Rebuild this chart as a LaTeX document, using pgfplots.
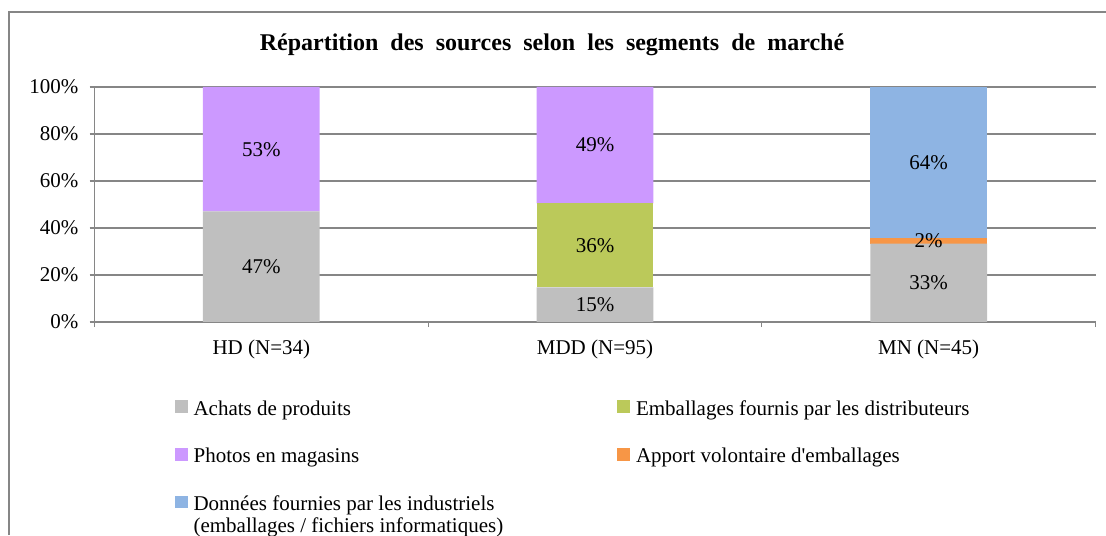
\documentclass[border=0pt]{standalone}
\usepackage{fontspec}
\setmainfont{Liberation Serif}
\newfontfamily\nomap{Liberation Serif}
\usepackage{pgfplots}
\usepackage{pgfplotstable}
\pgfplotsset{compat=1.18}
\definecolor{cach}{RGB}{191,191,191}
\definecolor{cemb}{RGB}{187,201,90}
\definecolor{cpho}{RGB}{204,153,255}
\definecolor{capp}{RGB}{247,150,70}
\definecolor{cdon}{RGB}{142,180,227}
\definecolor{cgrid}{RGB}{134,134,134}

% parts in percent of each segment (N=34, 95, 45)
\pgfplotstableread{
x ach emb pho app don
0 47.06 0 52.94 0 0
1 14.74 35.79 49.47 0 0
2 33.33 0 0 2.22 64.44
}\sources

\newcommand{\lab}{\fontsize{10.5}{12}\selectfont}
% with anchor=center the stacked labels already sit mid-segment
\pgfplotsset{
  seg/.style={draw=none, fill=#1},
  seglab/.style={
    visualization depends on={\thisrow{#1} \as \rawy},
    nodes near coords={\ifdim\rawy pt>0.5pt\pgfmathtruncatemacro\v{round(\rawy)}\v\%\fi},
    every node near coord/.append style={anchor=center, font=\lab, text=black}},
}

\begin{document}
\begin{tikzpicture}
\useasboundingbox (0,0) rectangle (553pt,267.5pt);
\draw[cgrid, line width=0.6pt] (4.5pt,0pt) -- (4.5pt,261.5pt) -- (553pt,261.5pt);
\node[font=\bfseries\fontsize{12}{14}\selectfont] at (276pt,245pt)
  {Répartition\ \ des\ \ sources\ \ selon\ \ les\ \ segments\ \ de\ \ marché};
\begin{axis}[
  at={(47.25pt,106.5pt)}, anchor=south west, scale only axis,
  width=500.5pt, height=117.5pt,
  ybar stacked, bar width=0.35,
  xmin=-0.5, xmax=2.5, ymin=0, ymax=100,
  axis lines*=left,
  axis line style={cgrid, line width=0.6pt},
  xtick={0,1,2}, xticklabels={HD (N=34),MDD (N=95),MN (N=45)},
  minor xtick={-0.5,0.5,1.5,2.5},
  major x tick style={draw=none},
  minor x tick style={cgrid, line width=0.6pt},
  minor tick length=2.5pt,
  ytick={0,20,...,100},
  yticklabel={\pgfmathtruncatemacro\t{\tick}\t\%},
  major y tick style={cgrid, line width=0.6pt},
  major tick length=2.5pt,
  tick align=outside,
  ymajorgrids, grid style={cgrid, line width=0.6pt},
  tick label style={font=\lab},
  xticklabel style={yshift=-3pt},
  yticklabel style={xshift=-2pt},
  legend columns=2,
  legend cell align=left,
  legend image code/.code={\fill[#1] (0pt,-1.8pt) rectangle (6.4pt,4.5pt);},
  legend style={draw=none, fill=none, font=\lab, inner sep=0pt, outer sep=0pt,
    at={(0.0802,-0.317)}, anchor=north west, row sep=11pt,
    /tikz/every odd column/.append style={column sep=1pt},
    /tikz/every even column/.append style={column sep=55pt}},
]
\addplot[seg=cach, seglab=ach] table[x=x, y=ach] {\sources};
\addlegendentry{Achats de produits}
\addplot[seg=cemb, seglab=emb] table[x=x, y=emb] {\sources};
\addlegendentry{Emballages fournis par les distributeurs}
\addplot[seg=cpho, seglab=pho] table[x=x, y=pho] {\sources};
\addlegendentry{Photos en magasins}
\addplot[seg=capp, seglab=app] table[x=x, y=app] {\sources};
\addlegendentry{Apport volontaire d{\nomap'}emballages}
\addplot[seg=cdon, seglab=don] table[x=x, y=don] {\sources};
\addlegendentry{\raisebox{0pt}[\height][0.3ex]{\vtop{\baselineskip=11pt
  \hbox{Données fournies par les industriels}
  \hbox{(emballages / fichiers informatiques)}}}}
\end{axis}
\end{tikzpicture}
\end{document}
